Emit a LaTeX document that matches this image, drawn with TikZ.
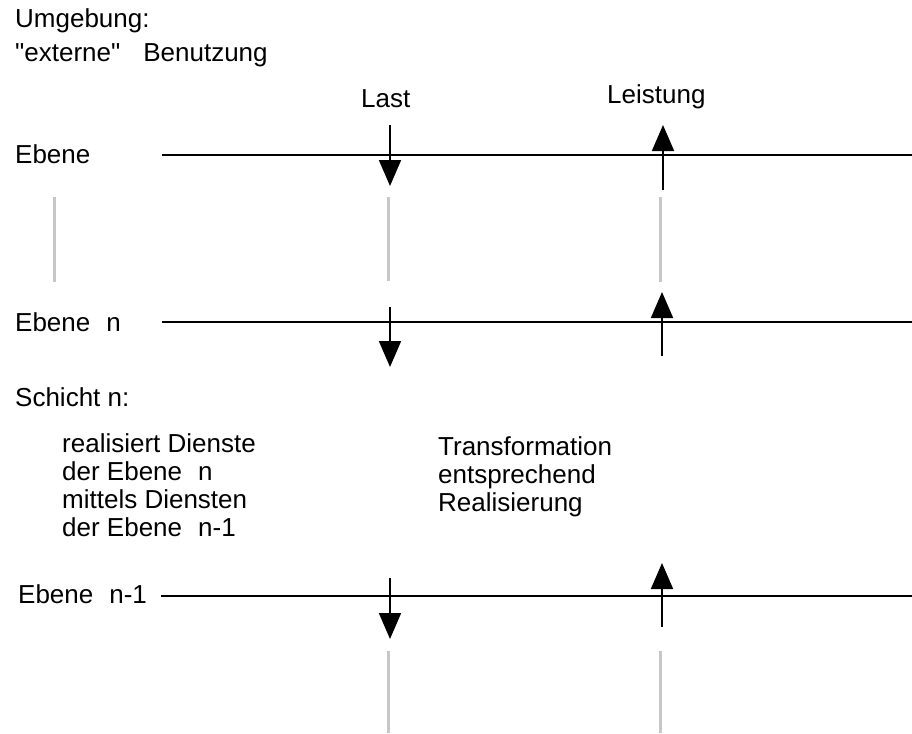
\documentclass[tikz,border=0pt]{standalone}
\usepackage{fontspec}
\newfontfamily\txtfont{Liberation Sans}
\usetikzlibrary{arrows.meta}
\tikzset{
  lbl/.style={anchor=base west, inner sep=0pt, font=\txtfont\fontsize{26}{28}\selectfont},
  level/.style={line width=1.8pt, black},
  flow/.style={line width=1.8pt, -{Triangle[length=26pt,width=22pt]}},
  sep/.style={line width=3pt, color=black!22}
}
\begin{document}
\begin{tikzpicture}[x=1pt,y=-1pt]
\useasboundingbox (0,0) rectangle (912,733);
% texts
\node[lbl] (umg) at (15,28) {Umgebung:};
\node[lbl] (ext) at (15,62) {"externe"\hspace{23pt}Benutzung};
\node[lbl] (last) at (361,107) {Last};
\node[lbl] (leist) at (607,103) {Leistung};
\node[lbl] (eb) at (15,163) {Ebene};
\node[lbl] (ebn) at (15,331) {Ebene\hspace{16pt}n};
\node[lbl] (schicht) at (15,406) {Schicht n:};
\node[lbl] (r1) at (62,452) {realisiert Dienste};
\node[lbl] (r2) at (62,480) {der Ebene\hspace{16pt}n};
\node[lbl] (r3) at (62,508) {mittels Diensten};
\node[lbl] (r4) at (62,536) {der Ebene\hspace{16pt}n-1};
\node[lbl] (t1) at (438,455) {Transformation};
\node[lbl] (t2) at (438,483) {entsprechend};
\node[lbl] (t3) at (438,511) {Realisierung};
\node[lbl] (ebn1) at (18,603) {Ebene\hspace{16pt}n-1};
% level lines
\coordinate (L1a) at (162,155); \coordinate (L1b) at (912,155);
\coordinate (L2a) at (162,322); \coordinate (L2b) at (912,322);
\coordinate (L3a) at (161,596); \coordinate (L3b) at (912,596);
\draw[level] (L1a) -- (L1b);
\draw[level] (L2a) -- (L2b);
\draw[level] (L3a) -- (L3b);
% arrows
\coordinate (a1s) at (390,125); \coordinate (a1e) at (390,186);
\coordinate (b1s) at (663,190); \coordinate (b1e) at (663,125);
\coordinate (a2s) at (390,307); \coordinate (a2e) at (390,367);
\coordinate (b2s) at (662,356); \coordinate (b2e) at (662,292);
\coordinate (a3s) at (390,578); \coordinate (a3e) at (390,639);
\coordinate (b3s) at (662,627); \coordinate (b3e) at (662,563);
\draw[flow] (a1s) -- (a1e);
\draw[flow] (b1s) -- (b1e);
\draw[flow] (a2s) -- (a2e);
\draw[flow] (b2s) -- (b2e);
\draw[flow] (a3s) -- (a3e);
\draw[flow] (b3s) -- (b3e);
% grey separators
\coordinate (g1s) at (54,197); \coordinate (g1e) at (54,282);
\coordinate (g2s) at (388,197); \coordinate (g2e) at (388,281);
\coordinate (g3s) at (660,197); \coordinate (g3e) at (660,282);
\coordinate (g4s) at (388,651); \coordinate (g4e) at (388,733);
\coordinate (g5s) at (660,651); \coordinate (g5e) at (660,733);
\draw[sep] (g1s) -- (g1e);
\draw[sep] (g2s) -- (g2e);
\draw[sep] (g3s) -- (g3e);
\draw[sep] (g4s) -- (g4e);
\draw[sep] (g5s) -- (g5e);
\end{tikzpicture}
\end{document}
